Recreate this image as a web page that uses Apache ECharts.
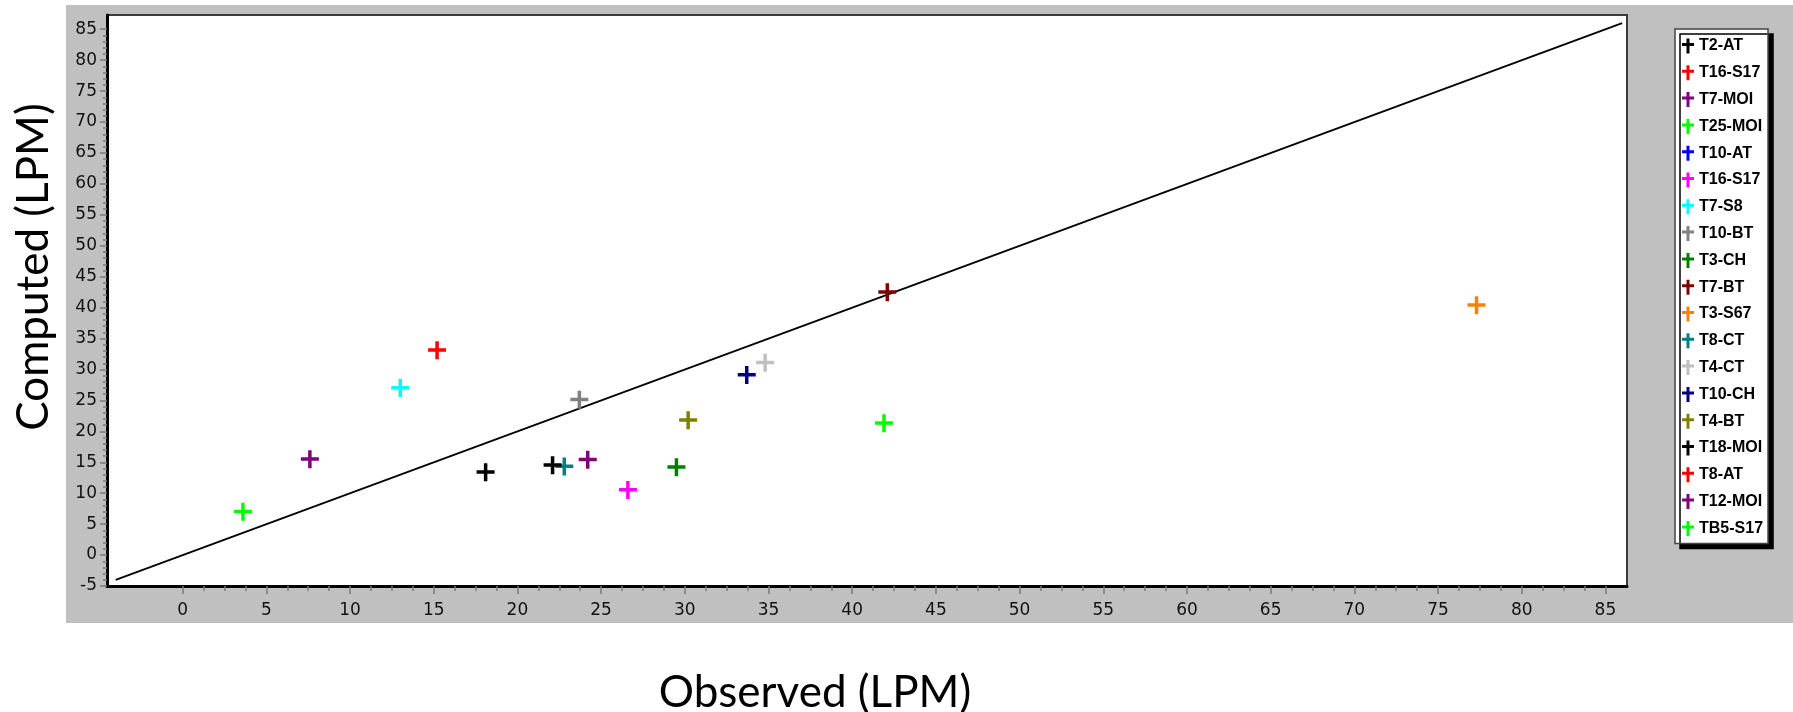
<!DOCTYPE html>
<html>
<head>
<meta charset="utf-8">
<title>Computed vs Observed (LPM)</title>
<script src="https://cdn.jsdelivr.net/npm/echarts@6/dist/echarts.min.js"></script>
<style>
  html, body { margin: 0; padding: 0; background: #ffffff; }
  #wrap { position: relative; width: 1793px; height: 712px; }
  #panel { position: absolute; left: 66px; top: 5px; width: 1727px; height: 618px; background: #c0c0c0; }
  #chart { position: absolute; left: 0; top: 0; width: 1793px; height: 712px; }
</style>
</head>
<body>
<div id="wrap">
  <div id="panel"></div>
  <div id="chart"></div>
</div>
<script>
// Station names, in legend order
const stationNames = [
  'T2-AT', 'T16-S17', 'T7-MOI', 'T25-MOI', 'T10-AT', 'T16-S17', 'T7-S8', 'T10-BT',
  'T3-CH', 'T7-BT', 'T3-S67', 'T8-CT', 'T4-CT', 'T10-CH', 'T4-BT', 'T18-MOI',
  'T8-AT', 'T12-MOI', 'TB5-S17'
];
// Observed flow (LPM); null where a station has no plotted point
const observedLPM = [
  18.1, 15.2, 7.6, 41.9, null, 26.6, 13.0, 23.7,
  29.5, 42.1, 77.3, 22.8, 34.8, 33.7, 30.2, 22.1,
  null, 24.2, 3.6
];
// Computed flow (LPM)
const computedLPM = [
  13.4, 33.1, 15.5, 21.3, null, 10.5, 27.0, 25.1,
  14.2, 42.5, 40.4, 14.3, 31.1, 29.1, 21.8, 14.5,
  null, 15.4, 7.0
];
// Marker colours per station
const stationColors = [
  '#000000', '#ff0000', '#800080', '#00ff00', '#0000ff', '#ff00ff', '#00ffff', '#808080',
  '#008000', '#800000', '#ff8000', '#008080', '#c0c0c0', '#000080', '#808000', '#000000',
  '#ff0000', '#800080', '#00ff00'
];
// 1:1 reference line
const identityLine = [[-4, -4], [86, 86]];
// Axis ranges and tick labels
const xMin = -4.52, xMax = 86.29;
const yMin = -5, yMax = 87.3;
const xTickValues = [0, 5, 10, 15, 20, 25, 30, 35, 40, 45, 50, 55, 60, 65, 70, 75, 80, 85];
const yTickValues = [-5, 0, 5, 10, 15, 20, 25, 30, 35, 40, 45, 50, 55, 60, 65, 70, 75, 80, 85];

// minor ticks: quarters between x labels, units between y labels
const xMinorValues = [];
for (let i = 0; i < xTickValues.length - 1; i++) {
  const a = xTickValues[i], step = (xTickValues[i + 1] - a) / 4;
  for (let k = 1; k < 4; k++) xMinorValues.push(a + k * step);
}
const yMinorValues = [];
for (let i = 0; i < yTickValues.length - 1; i++) {
  const a = yTickValues[i], step = (yTickValues[i + 1] - a) / 5;
  for (let k = 1; k < 5; k++) yMinorValues.push(a + k * step);
}

const plusMarker = 'path://M7.25,0H10.75V7H18V10.5H10.75V18H7.25V10.5H0V7H7.25Z';
const daggerIcon = 'path://M4.5,0H7.5V4.5H12V7.5H7.5V15H4.5V7.5H0V4.5H4.5Z';

// repeated station names get trailing spaces so each keeps its own legend entry
const seen = {};
const seriesKeys = stationNames.map(n => {
  seen[n] = (seen[n] || 0) + 1;
  return n + ' '.repeat(seen[n] - 1);
});

const tickLabelStyle = { fontFamily: 'DejaVu Sans', fontSize: 17, color: '#111' };
const tickLine = { color: '#7a7a7a', width: 1.5 };

const series = [{
  type: 'line',
  name: 'identity',
  data: identityLine,
  symbol: 'none',
  silent: true,
  lineStyle: { color: '#000', width: 1.8 },
  z: 2
}];
seriesKeys.forEach((key, i) => {
  const pts = observedLPM[i] == null ? [] : [[observedLPM[i], computedLPM[i]]];
  series.push({
    type: 'scatter',
    name: key,
    data: pts,
    symbol: plusMarker,
    symbolSize: 18,
    itemStyle: { color: stationColors[i], opacity: 1 },
    z: 3
  });
});

const chart = echarts.init(document.getElementById('chart'), null, { renderer: 'canvas' });
chart.setOption({
  animation: false,
  backgroundColor: 'transparent',
  grid: {
    left: 107, top: 15, width: 1520, height: 571,
    show: true, backgroundColor: '#ffffff', borderColor: '#3a3a3a', borderWidth: 2
  },
  xAxis: [{
    type: 'value', min: xMin, max: xMax, position: 'bottom',
    axisLine: { onZero: false, lineStyle: { color: '#000', width: 3 } },
    axisTick: { customValues: xTickValues, length: 8, lineStyle: tickLine },
    axisLabel: Object.assign({ customValues: xTickValues, margin: 16 }, tickLabelStyle),
    splitLine: { show: false }
  }, {
    type: 'value', min: xMin, max: xMax, position: 'bottom',
    axisLine: { show: false, onZero: false },
    axisTick: { customValues: xMinorValues, length: 5, lineStyle: tickLine },
    axisLabel: { show: false },
    splitLine: { show: false }
  }],
  yAxis: [{
    type: 'value', min: yMin, max: yMax, position: 'left',
    axisLine: { onZero: false, lineStyle: { color: '#000', width: 3 } },
    axisTick: { customValues: yTickValues, length: 7, lineStyle: tickLine },
    axisLabel: Object.assign({ customValues: yTickValues, margin: 10 }, tickLabelStyle),
    splitLine: { show: false }
  }, {
    type: 'value', min: yMin, max: yMax, position: 'left',
    axisLine: { show: false, onZero: false },
    axisTick: { customValues: yMinorValues, length: 4, lineStyle: tickLine },
    axisLabel: { show: false },
    splitLine: { show: false }
  }],
  legend: {
    orient: 'vertical',
    left: 1675, top: 29,
    padding: [9, 5, 7, 7],
    itemGap: 10.8,
    itemWidth: 12, itemHeight: 15,
    icon: daggerIcon,
    selectedMode: false,
    data: seriesKeys,
    formatter: n => n.trim(),
    textStyle: {
      fontFamily: 'Liberation Sans', fontWeight: 'bold', fontSize: 16,
      lineHeight: 16, color: '#000'
    },
    backgroundColor: '#ffffff',
    borderColor: '#444', borderWidth: 1.5,
    shadowColor: '#000', shadowBlur: 0, shadowOffsetX: 5, shadowOffsetY: 5
  },
  graphic: [{
    type: 'text', x: 34, y: 267, rotation: Math.PI / 2, z: 100,
    style: { text: 'Computed (LPM)', font: '44px Lato', fill: '#000', align: 'center', verticalAlign: 'middle' }
  }, {
    type: 'text', x: 815, y: 693, z: 100,
    style: { text: 'Observed (LPM)', font: '44px Lato', fill: '#000', align: 'center', verticalAlign: 'middle' }
  }],
  series: series
});
</script>
</body>
</html>
